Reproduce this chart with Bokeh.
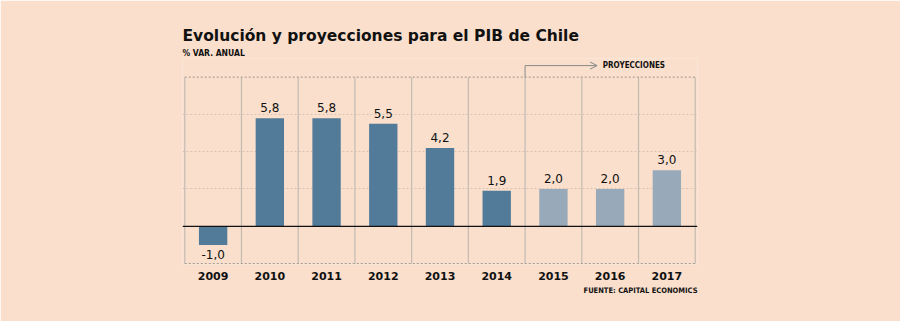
from bokeh.plotting import figure
from bokeh.models import Label, Span, FixedTicker, Arrow, OpenHead, ColumnDataSource, FactorRange, Range1d, Title
from bokeh.core.properties import value
from bokeh.embed import file_html
from bokeh.resources import INLINE

years = ["2009", "2010", "2011", "2012", "2013", "2014", "2015", "2016", "2017"]
pib = [-1.0, 5.8, 5.8, 5.5, 4.2, 1.9, 2.0, 2.0, 3.0]
proyeccion = [False, False, False, False, False, False, True, True, True]

BG = "#f9dfcc"
DARK = "#527a99"
LIGHT = "#98aaba"

labels = [f"{v:.1f}".replace(".", ",") for v in pib]
colors = [LIGHT if pr else DARK for pr in proyeccion]
src = ColumnDataSource(dict(x=years, top=pib, color=colors, lab=labels))

p = figure(width=900, height=321,
           x_range=FactorRange(*years, range_padding=0.04, range_padding_units="absolute"),
           y_range=Range1d(-2.05, 9.0),
           output_backend="svg", toolbar_location=None, title=None,
           min_border_left=182, min_border_right=203, min_border_top=58, min_border_bottom=57,
           background_fill_color=BG, border_fill_color=BG, outline_line_color=None)

p.yaxis.visible = False
p.xgrid.visible = False
p.ygrid.ticker = FixedTicker(ticks=[2, 4, 6])
p.ygrid.grid_line_color = "#d9c3b2"
p.ygrid.grid_line_dash = "2 2"

xa = p.xaxis[0]
xa.axis_line_color = None
xa.major_tick_line_color = None
xa.minor_tick_line_color = None
xa.major_label_text_font = "DejaVu Sans"
xa.major_label_text_font_style = "bold"
xa.major_label_text_font_size = "11px"
xa.major_label_text_color = "#111111"
xa.major_label_standoff = 1

# category separators
n = len(years)
bounds = list(range(n + 1))
p.segment(x0=bounds, y0=[-2] * (n + 1), x1=bounds, y1=[8] * (n + 1), line_color="#c4bab2", line_width=1.2)
# top and bottom dotted lines
p.segment(x0=[0, 0], y0=[8, -2], x1=[n, n], y1=[8, -2], line_color="#a09890", line_width=1, line_dash="2 2")

p.vbar(x="x", top="top", bottom=0, width=0.5, fill_color="color", line_color=None, source=src)

p.add_layout(Span(location=0, dimension="width", line_color="#111111", line_width=1.2))

pos = ColumnDataSource(dict(x=[y for y, v in zip(years, pib) if v >= 0],
                            y=[v for v in pib if v >= 0],
                            t=[l for l, v in zip(labels, pib) if v >= 0]))
neg = ColumnDataSource(dict(x=[y for y, v in zip(years, pib) if v < 0],
                            y=[v for v in pib if v < 0],
                            t=[l for l, v in zip(labels, pib) if v < 0]))
p.text(x="x", y="y", text="t", source=pos, text_align="center", text_baseline="bottom",
       y_offset=-6, text_font=value("DejaVu Sans"), text_font_size="12px", text_color="#111111")
p.text(x="x", y="y", text="t", source=neg, text_align="center", text_baseline="top",
       y_offset=5, text_font=value("DejaVu Sans"), text_font_size="12px", text_color="#111111")

# projection arrow
ps = proyeccion.index(True)
p.segment(x0=[ps], y0=[8], x1=[ps], y1=[8.62], line_color="#8a8a8a", line_width=1)
p.add_layout(Arrow(end=OpenHead(size=7, line_color="#8a8a8a", line_width=1),
                   x_start=ps, y_start=8.62, x_end=ps + 1.27, y_end=8.62,
                   line_color="#8a8a8a", line_width=1))
p.add_layout(Label(x=ps + 1.37, y=8.62, text="PROYECCIONES", text_baseline="middle",
                   text_font="DejaVu Sans Condensed", text_font_style="bold",
                   text_font_size="8px", text_color="#111111"))

# titles (first added is closest to the frame)
p.add_layout(Title(text="% VAR. ANUAL", align="left", standoff=1,
                   text_font="DejaVu Sans Condensed", text_font_style="bold",
                   text_font_size="8.5px", text_color="#111111"), "above")
p.add_layout(Title(text="Evolución y proyecciones para el PIB de Chile", align="left", standoff=2,
                   text_font="DejaVu Sans", text_font_style="bold",
                   text_font_size="15.5px", text_color="#111111"), "above")
p.add_layout(Title(text="FUENTE: CAPITAL ECONOMICS", align="right", standoff=3,
                   text_font="DejaVu Sans Condensed", text_font_style="bold",
                   text_font_size="7.5px", text_color="#111111"), "below")

open("out.html", "w").write(file_html(p, INLINE))
